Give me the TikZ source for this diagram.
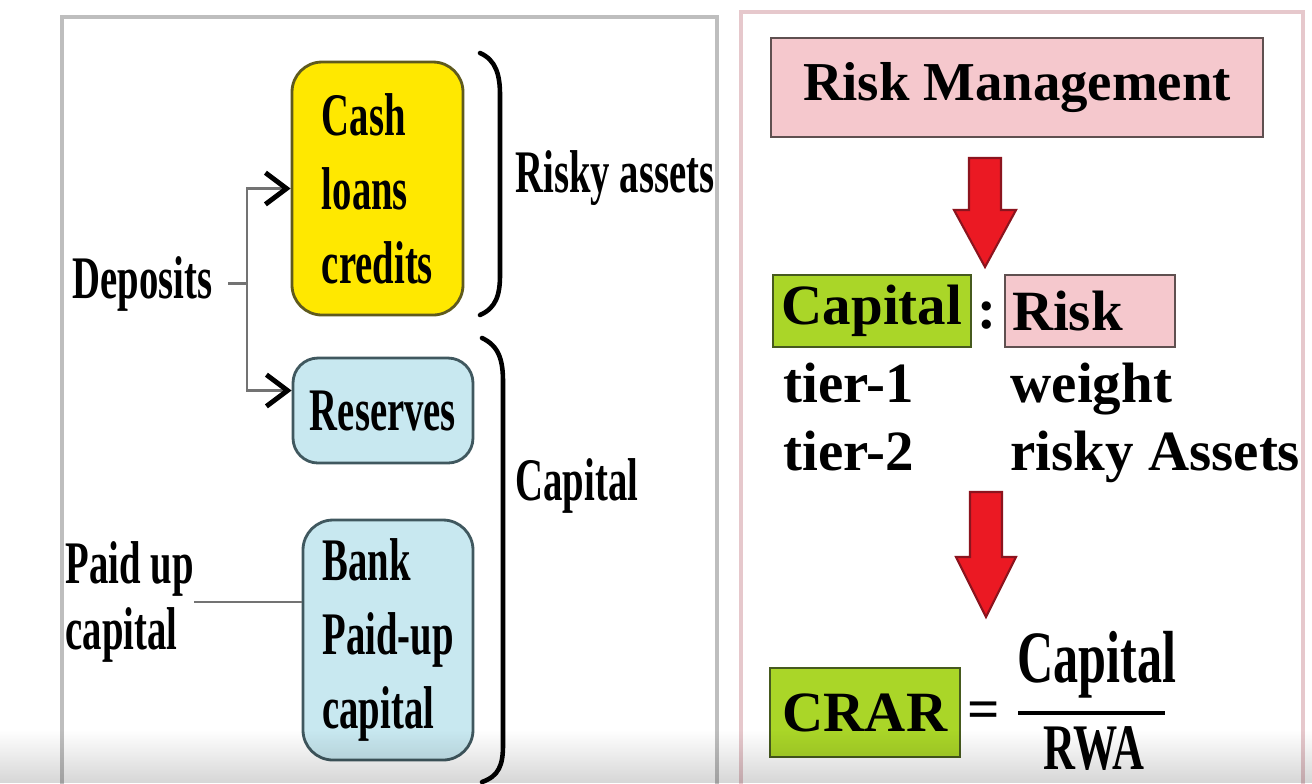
\documentclass[tikz,border=0pt]{standalone}
\usepackage{fontspec}
\setmainfont{Liberation Serif}
\newfontfamily\narrowfont[FakeStretch=0.64]{Liberation Serif}
\newfontfamily\fracfont[FakeStretch=0.68]{Liberation Serif}
\usetikzlibrary{positioning,arrows.meta,fadings}

\definecolor{cashyellow}{RGB}{255,232,0}
\definecolor{cashedge}{RGB}{95,90,30}
\definecolor{reserveblue}{RGB}{200,232,240}
\definecolor{blueedge}{RGB}{64,88,95}
\definecolor{riskpink}{RGB}{245,200,205}
\definecolor{pinkedge}{RGB}{95,80,80}
\definecolor{capgreen}{RGB}{170,214,40}
\definecolor{greenedge}{RGB}{70,90,30}
\definecolor{arrowred}{RGB}{235,25,35}
\definecolor{arrowedge}{RGB}{140,20,30}
\definecolor{framegray}{RGB}{190,190,190}
\definecolor{framepink}{RGB}{230,200,204}

\tikzset{
  leftlabel/.style={inner sep=0pt, font=\narrowfont\bfseries\fontsize{17.2}{19}\selectfont},
  leftbox/.style={draw, line width=0.8pt, rounded corners=3mm, inner sep=0pt, align=left,
    font=\narrowfont\bfseries\fontsize{17.2}{21}\selectfont},
  cashbox/.style={leftbox, draw=cashedge, fill=cashyellow},
  bluebox/.style={leftbox, draw=blueedge, fill=reserveblue},
  rightlabel/.style={inner sep=0pt, font=\bfseries\fontsize{16.2}{18}\selectfont},
  pinkbox/.style={rightlabel, draw=pinkedge, fill=riskpink, line width=0.8pt},
  greenbox/.style={rightlabel, draw=greenedge, fill=capgreen, line width=0.8pt},
  fraclabel/.style={inner sep=0pt, font=\fracfont\bfseries\fontsize{21}{24}\selectfont},
  wire/.style={draw=black!55, line width=0.8pt},
  feed/.style={wire, -{Straight Barb[length=6pt,width=9pt,line width=1.4pt,black]}},
  bracket/.style={line width=1.3pt, line cap=round},
  redarrow/.style={fill=arrowred, draw=arrowedge, line width=0.6pt, line join=miter},
}

\begin{document}
\begin{tikzpicture}[x=0.1mm, y=-0.1mm]
\useasboundingbox (0,0) rectangle (1312,783);
\fill[white] (0,0) rectangle (1312,783);

% the two panels
\draw[framegray, line width=1pt] (62,800) -- (62,17) -- (717,17) -- (717,800);
\draw[framepink, line width=1pt] (741,800) -- (741,12) -- (1303,12) -- (1303,800);

% left panel: where deposits go
\node[cashbox, minimum width=17.1mm, minimum height=25.3mm] (cash) at (377.5,188.5) {Cash\\loans\\credits};
\node[bluebox, minimum width=18mm, minimum height=10.5mm, rounded corners=2.5mm, align=center] (reserves) at (383,410.5) {Reserves};
\node[bluebox, minimum width=17mm, minimum height=24mm] (bank) at (388,640) {Bank\\Paid-up\\capital};

\node[leftlabel, anchor=base west] (deposits) at (72,298) {Deposits};
\node[leftlabel, anchor=west, align=left] (paidup) at (65,602) {Paid up\\capital};
\node[leftlabel, anchor=base west] (riskyassets) at (515,192) {Risky assets};
\node[leftlabel, anchor=base west] (capitalsum) at (515,500) {Capital};

\coordinate (split) at (247,280);
\draw[wire] ([xshift=1.5mm]deposits.east) -- (deposits.east -| split);
\draw[feed] (split) |- (cash.west);
\draw[feed] (split) |- ([yshift=2mm]reserves.west);
\draw[wire] (paidup.east) -- (paidup.east -| bank.west);

% brackets
\draw[bracket] (480,53) .. controls (496,60) and (500,75) .. (500,95) -- (500,275)
  .. controls (500,295) and (496,308) .. (480,315);
\draw[bracket] (482,338) .. controls (499,346) and (503,360) .. (503,382) -- (503,745)
  .. controls (503,765) and (499,776) .. (482,782);

% right panel: capital adequacy
\node[pinkbox, minimum width=49.2mm, minimum height=9.9mm, font=\bfseries\fontsize{15.6}{18}\selectfont] (mgmt) at (1017,87.5) {Risk Management};
\node[greenbox, minimum width=19.8mm, minimum height=7.2mm] (capital) at (872,311) {Capital};
\node[rightlabel] (colon) at (987,316) {:};
\node[pinkbox, text width=15.6mm, inner xsep=0.7mm, minimum height=7.2mm, align=left] (risk) at (1090,311) {Risk};

\node[rightlabel, anchor=base west] (tier1) at (783,402) {tier-1};
\node[rightlabel, anchor=base west] (weight) at (1010,402) {weight};
\node[rightlabel, anchor=base west] (tier2) at (783,470) {tier-2};
\node[rightlabel, anchor=base west] (riskyAssets) at (1010,470) {risky Assets};

\coordinate (drop1) at (985,158);
\filldraw[redarrow] (drop1) ++(-16,0) -- ++(32,0) -- ++(0,52) -- ++(15,0) -- ++(-31,57) -- ++(-31,-57) -- ++(15,0) -- cycle;
\coordinate (drop2) at (986,492);
\filldraw[redarrow] (drop2) ++(-16,0) -- ++(32,0) -- ++(0,65) -- ++(14,0) -- ++(-30,60) -- ++(-30,-60) -- ++(14,0) -- cycle;

\node[greenbox, minimum width=19mm, minimum height=8.9mm] (crar) at (865,712.5) {CRAR};
\node[rightlabel] (equals) at (984,715) {=};
\node[fraclabel, anchor=base] (num) at (1097,682) {Capital};
\node[fraclabel, anchor=north, font=\fracfont\bfseries\fontsize{18.5}{22}\selectfont] (den) at (1094,726) {RWA};
\draw[line width=1.1pt] (1018,713) -- (1165,713);

% grey strip of the video player
\fill[black, opacity=0.16, path fading=north] (0,730) rectangle (1312,783);
\end{tikzpicture}
\end{document}
